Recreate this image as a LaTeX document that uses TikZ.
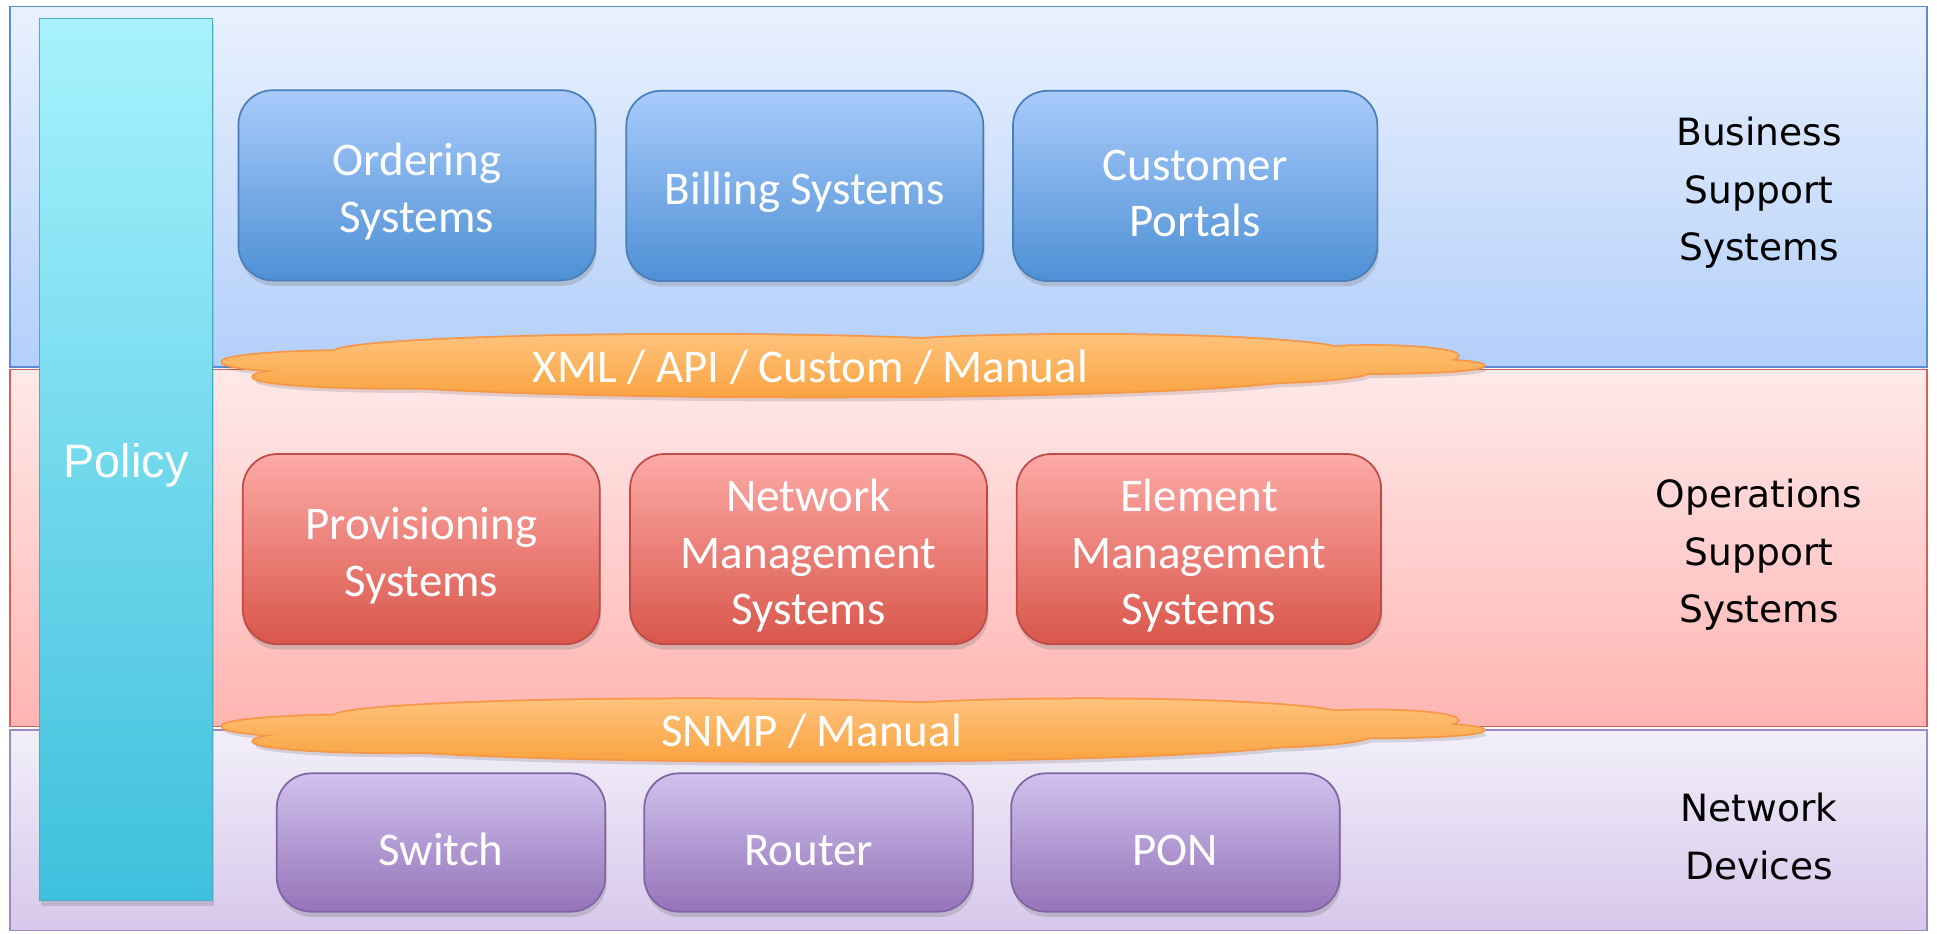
\documentclass[tikz,border=0pt]{standalone}
\usepackage{fontspec}
\setmainfont{Carlito}
\newfontfamily\layerfont{DejaVu Sans}
\newfontfamily\policyfont{Liberation Sans}
\usetikzlibrary{shadows}

\definecolor{bssTop}{HTML}{E9F1FE}
\definecolor{bssBot}{HTML}{B3CFFA}
\definecolor{bssLine}{HTML}{5B8BD0}
\definecolor{ossTop}{HTML}{FFE9E9}
\definecolor{ossBot}{HTML}{FFB5B2}
\definecolor{ossLine}{HTML}{D0625C}
\definecolor{ndTop}{HTML}{F2EFF9}
\definecolor{ndBot}{HTML}{D6C8EB}
\definecolor{ndLine}{HTML}{9C8AC6}
\definecolor{blueTop}{HTML}{A9CBFB}
\definecolor{blueBot}{HTML}{4E90D5}
\definecolor{blueLine}{HTML}{4A7EBB}
\definecolor{redTop}{HTML}{FDAAA6}
\definecolor{redBot}{HTML}{D9564B}
\definecolor{redLine}{HTML}{BE4B48}
\definecolor{purTop}{HTML}{D1C1EE}
\definecolor{purBot}{HTML}{9574B9}
\definecolor{purLine}{HTML}{8064A2}
\definecolor{polTop}{HTML}{A7F2FD}
\definecolor{polBot}{HTML}{3EC0DC}
\definecolor{polLine}{HTML}{4BACC6}
\definecolor{cloudTop}{HTML}{FFC47F}
\definecolor{cloudBot}{HTML}{F9A13C}
\definecolor{cloudLine}{HTML}{F79646}

% strut that pushes the first line of a box down a little
\newcommand{\toprule}{\rule{0pt}{21pt}}

% pieces of the flat cloud: x/y/x radius/y radius
\newcommand{\cloudparts}{290/293/110/9, 320/305/115/9, 560/285/290/14, 880/285/210/14,
  660/303/400/18, 1110/288/70/8, 1110/296/91/6, 1000/300/110/10}

\newcommand{\flatcloud}[1]{%
  \begin{scope}[shift={(0,#1)}]
    \fill[black, opacity=0.12, shift={(2,4)}] \foreach \cx/\cy/\rx/\ry in \cloudparts {(\cx,\cy) ellipse [x radius=\rx, y radius=\ry]};
    \foreach \cx/\cy/\rx/\ry in \cloudparts
      \draw[cloudLine, line width=1.6pt] (\cx,\cy) ellipse [x radius=\rx, y radius=\ry];
    \begin{scope}
      \clip \foreach \cx/\cy/\rx/\ry in \cloudparts {(\cx,\cy) ellipse [x radius=\rx, y radius=\ry]};
      \shade[top color=cloudTop, bottom color=cloudBot] (170,268) rectangle (1210,325);
    \end{scope}
  \end{scope}}

\begin{document}
\begin{tikzpicture}[x=0.02cm, y=-0.02cm,
  layer/.style={line width=0.6pt},
  sysbox/.style={rounded corners=0.56cm, line width=0.8pt, minimum width=5.78cm, minimum height=3.08cm,
    align=center, text=white, font=\fontsize{21.6}{26.2}\selectfont,
    execute at begin node={\rule{0pt}{21pt}},
    drop shadow={shadow xshift=0.6pt, shadow yshift=-2.5pt, opacity=0.3}},
  bssbox/.style={sysbox, draw=blueLine, top color=blueTop, bottom color=blueBot},
  ossbox/.style={sysbox, draw=redLine, top color=redTop, bottom color=redBot},
  devbox/.style={sysbox, draw=purLine, top color=purTop, bottom color=purBot,
    minimum width=5.32cm, minimum height=2.24cm},
  policybar/.style={line width=0.8pt, draw=polLine, top color=polTop, bottom color=polBot,
    minimum width=2.8cm, minimum height=14.28cm, text=white,
    font=\policyfont\fontsize{21.6}{26}\selectfont,
    execute at begin node={\rule{0pt}{21pt}},
    drop shadow={shadow xshift=0.6pt, shadow yshift=-2.5pt, opacity=0.3}},
  layertext/.style={align=center, font=\layerfont\fontsize{17.3}{26.6}\selectfont},
  cloudtext/.style={text=white, font=\fontsize{21.6}{26.2}\selectfont}]
\useasboundingbox (0,0) rectangle (1568,755.3);

% Layers
\shade[layer, draw=bssLine, top color=bssTop, bottom color=bssBot] (8,5) rectangle (1560,297);
\shade[layer, draw=ossLine, top color=ossTop, bottom color=ossBot] (8,299) rectangle (1560,588);
\shade[layer, draw=ndLine, top color=ndTop, bottom color=ndBot] (8,591) rectangle (1560,753);

% Interfaces between the layers
\flatcloud{0}
\flatcloud{295}
\node[cloudtext] (xmlapi) at (656,297) {XML / API / Custom / Manual};
\node[cloudtext] (snmp) at (657,592) {SNMP / Manual};

% Policy across all layers
\node[policybar] (policy) at (102,372) {Policy};

% Business support systems
\node[bssbox] (ordering) at (337.5,150) {\toprule Ordering\\Systems};
\node[bssbox] (billing) at (651.5,150.5) {Billing Systems};
\node[bssbox, minimum width=5.9cm] (portals) at (967.5,150.5) {\toprule Customer\\Portals};

% Operations support systems
\node[ossbox] (provisioning) at (341,444.5) {\toprule Provisioning\\Systems};
\node[ossbox] (nms) at (654.5,444.5) {\toprule Network\\Management\\Systems};
\node[ossbox, minimum width=5.9cm] (ems) at (970.5,444.5) {\toprule Element\\Management\\Systems};

% Network devices
\node[devbox] (switch) at (357,682) {Switch};
\node[devbox] (router) at (654.5,682) {Router};
\node[devbox] (pon) at (951.5,682) {PON};

% Layer names
\node[layertext] (bsslabel) at (1424,156) {Business\\Support\\Systems};
\node[layertext] (osslabel) at (1424,449) {Operations\\Support\\Systems};
\node[layertext] (ndlabel) at (1424,677) {Network\\Devices};
\end{tikzpicture}
\end{document}
